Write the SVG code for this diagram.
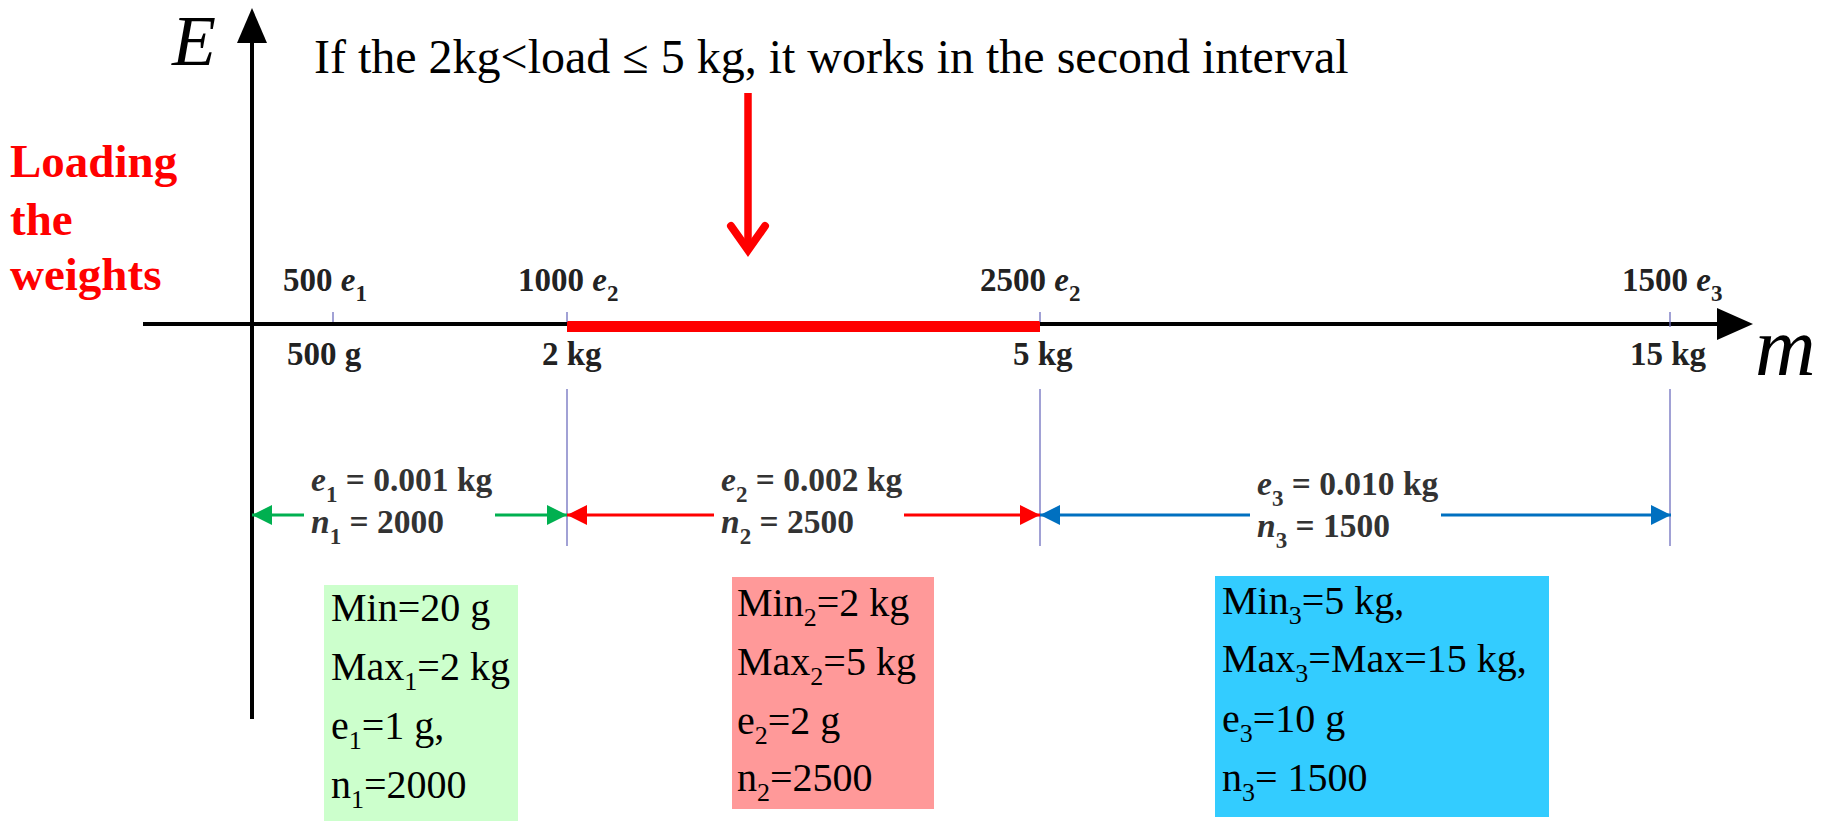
<svg xmlns="http://www.w3.org/2000/svg" width="1833" height="821" viewBox="0 0 1833 821">
<style>
.serif{font-family:"Liberation Serif","Times New Roman",serif}
.title{font-size:48px;fill:#000}
.axislbl{font-size:72px;font-style:italic;fill:#000}
.red{font-size:47px;font-weight:bold;fill:#ff0000}
.tick{font-size:33px;font-weight:bold;fill:#222}
.dim{font-size:33.5px;font-weight:bold;fill:#333}
.box{font-size:40px;fill:#000}
.it{font-style:italic}
.tk{stroke:#6f6fbf;stroke-width:1.3;fill:none}
</style>
<defs>
<marker id="hg" viewBox="0 0 20 20" refX="20" refY="10" markerWidth="20" markerHeight="20" markerUnits="userSpaceOnUse" orient="auto"><path d="M0,0 L20,10 L0,20 z" fill="#00b050"/></marker>
<marker id="hr" viewBox="0 0 20 20" refX="20" refY="10" markerWidth="20" markerHeight="20" markerUnits="userSpaceOnUse" orient="auto"><path d="M0,0 L20,10 L0,20 z" fill="#ff0000"/></marker>
<marker id="hb" viewBox="0 0 20 20" refX="20" refY="10" markerWidth="20" markerHeight="20" markerUnits="userSpaceOnUse" orient="auto"><path d="M0,0 L20,10 L0,20 z" fill="#0070c0"/></marker>
</defs>
<rect width="1833" height="821" fill="#fff"/>

<g id="connectors">
  <!-- axes -->
  <line x1="252" y1="719" x2="252" y2="40" stroke="#000" stroke-width="4"/>
  <polygon points="237,43 267,43 252,8" fill="#000"/>
  <line x1="143" y1="324" x2="1720" y2="324" stroke="#000" stroke-width="4"/>
  <polygon points="1717,308 1717,340 1753,324" fill="#000"/>
  <!-- red highlighted interval -->
  <rect x="567" y="321" width="473" height="11" fill="#ff0000"/>
  <!-- ticks -->
  <line class="tk" x1="333" y1="312" x2="333" y2="322"/>
  <line class="tk" x1="567" y1="312" x2="567" y2="322"/>
  <line class="tk" x1="567" y1="389" x2="567" y2="546"/>
  <line class="tk" x1="1040" y1="312" x2="1040" y2="322"/>
  <line class="tk" x1="1040" y1="389" x2="1040" y2="546"/>
  <line class="tk" x1="1670" y1="312" x2="1670" y2="327"/>
  <line class="tk" x1="1670" y1="389" x2="1670" y2="546"/>
  <!-- load arrow -->
  <line x1="748" y1="93" x2="748" y2="248" stroke="#ff0000" stroke-width="7.5"/>
  <polyline points="731,226 748,250 765,226" fill="none" stroke="#ff0000" stroke-width="8" stroke-linecap="round" stroke-linejoin="miter"/>
  <!-- interval dimension arrows -->
  <line x1="304" y1="515" x2="252" y2="515" stroke="#00b050" stroke-width="3" marker-end="url(#hg)"/>
  <line x1="495" y1="515" x2="567" y2="515" stroke="#00b050" stroke-width="3" marker-end="url(#hg)"/>
  <line x1="714" y1="515" x2="567" y2="515" stroke="#ff0000" stroke-width="3" marker-end="url(#hr)"/>
  <line x1="904" y1="515" x2="1040" y2="515" stroke="#ff0000" stroke-width="3" marker-end="url(#hr)"/>
  <line x1="1250" y1="515" x2="1040" y2="515" stroke="#0070c0" stroke-width="3" marker-end="url(#hb)"/>
  <line x1="1441" y1="515" x2="1671" y2="515" stroke="#0070c0" stroke-width="3" marker-end="url(#hb)"/>
</g>

<g id="axis-labels">
  <text class="serif axislbl" x="172" y="65">E</text>
  <text class="serif axislbl" x="1755" y="375" style="font-size:84px">m</text>
</g>

<g id="title">
  <text class="serif title" x="314" y="73">If the 2kg&lt;load ≤ 5 kg, it works in the second interval</text>
</g>

<g id="loading-label">
  <text class="serif red" x="10" y="177">Loading</text>
  <text class="serif red" x="10" y="235">the</text>
  <text class="serif red" x="10" y="290">weights</text>
</g>

<g id="tick-labels">
  <text class="serif tick" x="283" y="291">500 <tspan class="it">e</tspan><tspan dy="10" font-size="23">1</tspan></text>
  <text class="serif tick" x="518" y="291">1000 <tspan class="it">e</tspan><tspan dy="10" font-size="23">2</tspan></text>
  <text class="serif tick" x="980" y="291">2500 <tspan class="it">e</tspan><tspan dy="10" font-size="23">2</tspan></text>
  <text class="serif tick" x="1622" y="291">1500 <tspan class="it">e</tspan><tspan dy="10" font-size="23">3</tspan></text>
  <text class="serif tick" x="287" y="365">500 g</text>
  <text class="serif tick" x="542" y="365">2 kg</text>
  <text class="serif tick" x="1013" y="365">5 kg</text>
  <text class="serif tick" x="1630" y="365">15 kg</text>
</g>

<g id="interval-1-label">
  <text class="serif dim" x="311" y="491"><tspan class="it">e</tspan><tspan dy="11" font-size="23">1</tspan><tspan dy="-11"> = 0.001 kg</tspan></text>
  <text class="serif dim" x="311" y="533"><tspan class="it">n</tspan><tspan dy="11" font-size="23">1</tspan><tspan dy="-11"> = 2000</tspan></text>
</g>
<g id="interval-2-label">
  <text class="serif dim" x="721" y="491"><tspan class="it">e</tspan><tspan dy="11" font-size="23">2</tspan><tspan dy="-11"> = 0.002 kg</tspan></text>
  <text class="serif dim" x="721" y="533"><tspan class="it">n</tspan><tspan dy="11" font-size="23">2</tspan><tspan dy="-11"> = 2500</tspan></text>
</g>
<g id="interval-3-label">
  <text class="serif dim" x="1257" y="495"><tspan class="it">e</tspan><tspan dy="11" font-size="23">3</tspan><tspan dy="-11"> = 0.010 kg</tspan></text>
  <text class="serif dim" x="1257" y="537"><tspan class="it">n</tspan><tspan dy="11" font-size="23">3</tspan><tspan dy="-11"> = 1500</tspan></text>
</g>

<g id="box-1">
  <rect x="324" y="585" width="194" height="236" fill="#ccffcc"/>
  <text class="serif box" x="331" y="621">Min=20 g</text>
  <text class="serif box" x="331" y="680">Max<tspan dy="10" font-size="26">1</tspan><tspan dy="-10">=2 kg</tspan></text>
  <text class="serif box" x="331" y="739">e<tspan dy="10" font-size="26">1</tspan><tspan dy="-10">=1 g,</tspan></text>
  <text class="serif box" x="331" y="798">n<tspan dy="10" font-size="26">1</tspan><tspan dy="-10">=2000</tspan></text>
</g>
<g id="box-2">
  <rect x="732" y="577" width="202" height="232" fill="#ff9999"/>
  <text class="serif box" x="737" y="616">Min<tspan dy="10" font-size="26">2</tspan><tspan dy="-10">=2 kg</tspan></text>
  <text class="serif box" x="737" y="675">Max<tspan dy="10" font-size="26">2</tspan><tspan dy="-10">=5 kg</tspan></text>
  <text class="serif box" x="737" y="734">e<tspan dy="10" font-size="26">2</tspan><tspan dy="-10">=2 g</tspan></text>
  <text class="serif box" x="737" y="791">n<tspan dy="10" font-size="26">2</tspan><tspan dy="-10">=2500</tspan></text>
</g>
<g id="box-3">
  <rect x="1215" y="576" width="334" height="241" fill="#33ccff"/>
  <text class="serif box" x="1222" y="614">Min<tspan dy="10" font-size="26">3</tspan><tspan dy="-10">=5 kg,</tspan></text>
  <text class="serif box" x="1222" y="672">Max<tspan dy="10" font-size="26">3</tspan><tspan dy="-10">=Max=15 kg,</tspan></text>
  <text class="serif box" x="1222" y="732">e<tspan dy="10" font-size="26">3</tspan><tspan dy="-10">=10 g</tspan></text>
  <text class="serif box" x="1222" y="791">n<tspan dy="10" font-size="26">3</tspan><tspan dy="-10">= 1500</tspan></text>
</g>
</svg>
